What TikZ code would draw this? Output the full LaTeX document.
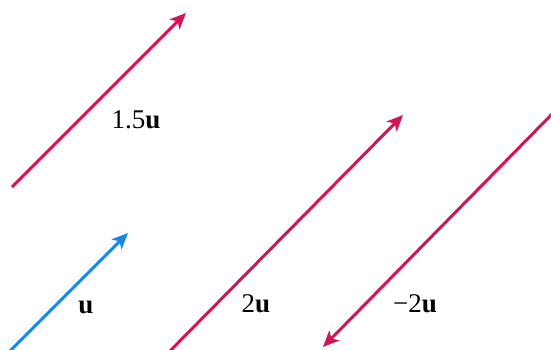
\documentclass[tikz,border=0pt]{standalone}
\usepackage{fontspec}
\setmainfont{Liberation Serif}
\usetikzlibrary{arrows.meta}
\definecolor{vecred}{RGB}{210,20,90}
\definecolor{vecblue}{RGB}{25,135,225}
\tikzset{
    vec/.style={line width=3pt, -{Stealth[length=16pt, width=14pt, inset=4pt]}},
    lbl/.style={font=\fontsize{27}{31}\selectfont, inner sep=0pt}
}
\begin{document}
\begin{tikzpicture}[x=1pt, y=-1pt]
    \useasboundingbox (0,0) rectangle (551,349);
    \clip (0,0) rectangle (551,349);
    % vectors
    \coordinate (ua) at (8,353);     \coordinate (ub) at (128,233);
    \coordinate (ha) at (12,187);    \coordinate (hb) at (186,13);
    \coordinate (ta) at (168,353);   \coordinate (tb) at (403,115);
    \coordinate (na) at (556,110);   \coordinate (nb) at (323,347);
    \draw[vec, vecblue] (ua) -- (ub);
    \draw[vec, vecred] (ha) -- (hb);
    \draw[vec, vecred] (ta) -- (tb);
    \draw[vec, vecred] (na) -- (nb);
    % labels
    \node[lbl] (lu) at (86,307) {\textbf{u}};
    \node[lbl] (lh) at (136,120) {1.5\textbf{u}};
    \node[lbl] (lt) at (256,304) {2\textbf{u}};
    \node[lbl] (ln) at (415,304) {\textminus2\textbf{u}};
\end{tikzpicture}
\end{document}
